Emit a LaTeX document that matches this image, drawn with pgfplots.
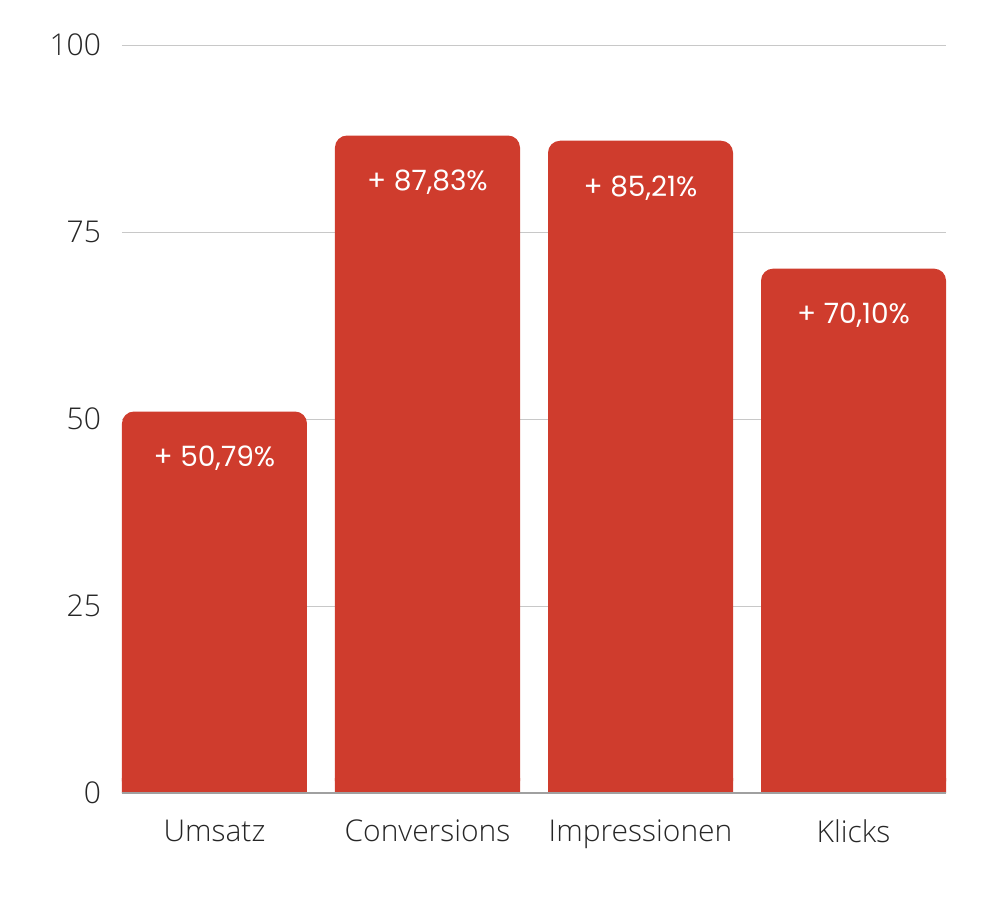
\documentclass[border=0pt]{standalone}
\usepackage{fontspec}
\setmainfont{Open Sans}[UprightFont={* Light}]
\newfontfamily\pop{Poppins}
\usepackage{pgfplots}
\pgfplotsset{compat=1.18}
\definecolor{barred}{RGB}{207,60,45}
\definecolor{gridgray}{RGB}{200,200,200}
\definecolor{axisgray}{RGB}{160,160,160}
\begin{document}
\begin{tikzpicture}
\path[use as bounding box] (-61pt,-62.5pt) rectangle (433pt,396.5pt);
\begin{axis}[
  at={(0,0)}, anchor=south west,
  scale only axis,
  width=412pt, height=374pt,
  xmin=-0.434, xmax=3.434,
  ymin=0, ymax=100,
  ytick={0,25,50,75,100},
  xtick={0,1,2,3},
  xticklabels={Umsatz,Conversions,Impressionen,Klicks},
  ymajorgrids,
  grid style={gridgray, line width=0.5pt},
  axis x line*=bottom,
  axis y line*=left,
  y axis line style={draw=none},
  x axis line style={axisgray, line width=0.8pt, -},
  major tick length=0pt,
  tick label style={font=\fontsize{15}{18}\selectfont, color=black!85},
  yticklabel style={anchor=east, xshift=-7pt},
  xticklabel style={yshift=-10pt},
  /pgf/number format/assume math mode=true,
  clip=false,
]
\addplot[ybar, bar width=0.8685, bar shift=0pt, fill=barred, draw=none, rounded corners=6pt,
  nodes near coords, point meta=explicit symbolic,
  every node near coord/.append style={anchor=center, yshift=-23.5pt, text=white, font=\pop\fontsize{14}{16}\selectfont}]
  table[meta=label, col sep=comma] {
x,y,label
0,51.0,{+ 50,79\%}
1,87.9,{+ 87,83\%}
2,87.2,{+ 85,21\%}
3,70.1,{+ 70,10\%}
};
\addplot[ybar, bar width=0.8685, bar shift=0pt, fill=barred, draw=none]
  coordinates {(0,2) (1,2) (2,2) (3,2)};
\draw[axisgray, line width=0.8pt] (axis cs:-0.434,0) -- (axis cs:3.434,0);
\end{axis}
\end{tikzpicture}
\end{document}
